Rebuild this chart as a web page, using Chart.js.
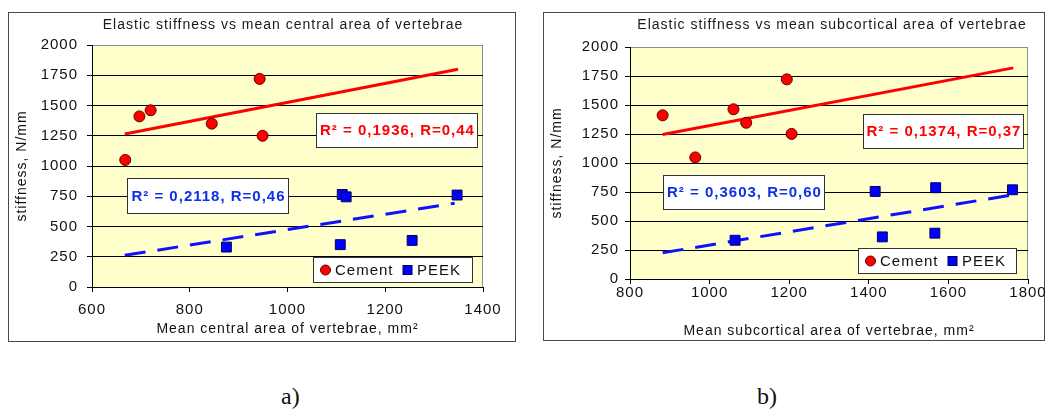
<!DOCTYPE html>
<html>
<head>
<meta charset="utf-8">
<script src="https://cdn.jsdelivr.net/npm/chart.js@4.4.1/dist/chart.umd.min.js"></script>
<style>
  body { margin: 0; background: #fff; width: 1048px; height: 411px; position: relative; overflow: hidden; }
  .frame { position: absolute; border: 1px solid #4a4a4a; background: #fff; }
  canvas { position: absolute; display: block; }
  .cap { position: absolute; font-family: "Liberation Serif", "DejaVu Serif", serif; font-size: 24px; line-height: 24px; color: #111; }
</style>
</head>
<body>
<div class="frame" style="left:8px;top:12px;width:506px;height:328px;"></div>
<div class="frame" style="left:543px;top:12px;width:500px;height:327px;"></div>
<canvas id="chartA" width="506" height="328" style="left:9px;top:13px;"></canvas>
<canvas id="chartB" width="504" height="327" style="left:544px;top:13px;"></canvas>
<div class="cap" style="left:281px;top:384px;">a)</div>
<div class="cap" style="left:757px;top:384px;">b)</div>
<script>
// ---- data ----
// a) mean central area
const cementCentralX = [668, 697, 720, 845, 943, 949];
const cementCentralY = [1050, 1410, 1460, 1350, 1720, 1250];
const peekCentralX = [875, 1108, 1112, 1120, 1255, 1347];
const peekCentralY = [330, 350, 765, 745, 385, 760];
const cementCentralTrendX = [667, 1349];
const cementCentralTrendY = [1265, 1799];
const peekCentralTrendX = [667, 1342];
const peekCentralTrendY = [262, 692];

// b) mean subcortical area
const cementSubX = [882, 964, 1060, 1092, 1194, 1206];
const cementSubY = [1411, 1048, 1463, 1347, 1721, 1251];
const peekSubX = [1064, 1416, 1434, 1566, 1568, 1761];
const peekSubY = [334, 755, 363, 395, 787, 769];
const cementSubTrendX = [882, 1763];
const cementSubTrendY = [1245, 1820];
const peekSubTrendX = [882, 1761];
const peekSubTrendY = [226, 725];

// labels
const seriesNames = ['Cement', 'PEEK'];
const yTitle = 'stiffness, N/mm';
const yTicks = { min: 0, max: 2000, step: 250 };
const centralXTicks = { min: 600, max: 1400, step: 200 };
const subXTicks = { min: 800, max: 1800, step: 200 };
const centralFit = ['R\u00B2 = 0,1936, R=0,44', 'R\u00B2 = 0,2118, R=0,46'];
const subFit = ['R\u00B2 = 0,1374, R=0,37', 'R\u00B2 = 0,3603, R=0,60'];

const FONT = '"Liberation Sans", Arial, sans-serif';
const RED = '#FF0000';
const BLUE = '#0000FF';
const BLUE_TEXT = '#1030E8';

const toPts = (xs, ys) => xs.map((x, i) => ({ x: x, y: ys[i] }));

// draws plot background, title, fit boxes and the legend box
const decorPlugin = {
  id: 'decor',
  beforeLayout(chart) { chart.ctx.letterSpacing = '1px'; },
  beforeDraw(chart, args, opts) {
    const ctx = chart.ctx, a = chart.chartArea;
    ctx.letterSpacing = '1px';
    ctx.save();
    ctx.fillStyle = '#FFFFCC';
    ctx.fillRect(a.left, a.top, a.right - a.left, a.bottom - a.top);
    ctx.strokeStyle = '#8c8c8c';
    ctx.lineWidth = 1;
    ctx.beginPath();
    ctx.moveTo(a.left, a.top + 0.5);
    ctx.lineTo(a.right - 0.5, a.top + 0.5);
    ctx.lineTo(a.right - 0.5, a.bottom);
    ctx.stroke();
    ctx.fillStyle = '#1a1a1a';
    ctx.font = '14px ' + FONT;
    ctx.textAlign = 'center';
    ctx.textBaseline = 'middle';
    ctx.fillText(opts.title, opts.titleX, opts.titleY);
    ctx.restore();
  },
  afterDatasetsDraw(chart, args, opts) {
    const ctx = chart.ctx;
    ctx.save();
    ctx.letterSpacing = '1px';
    // fit labels
    opts.boxes.forEach(b => {
      ctx.fillStyle = '#fff';
      ctx.fillRect(b.x, b.y, b.w, b.h);
      ctx.strokeStyle = '#333';
      ctx.lineWidth = 1;
      ctx.strokeRect(b.x + 0.5, b.y + 0.5, b.w, b.h);
      ctx.fillStyle = b.color;
      ctx.font = 'bold 15px ' + FONT;
      ctx.textAlign = 'center';
      ctx.textBaseline = 'middle';
      ctx.fillText(b.text, b.x + b.w / 2 + 1, b.y + b.h / 2 + 1);
    });
    // legend
    const L = opts.legend;
    ctx.fillStyle = '#fff';
    ctx.fillRect(L.x, L.y, L.w, L.h);
    ctx.strokeStyle = '#333';
    ctx.strokeRect(L.x + 0.5, L.y + 0.5, L.w, L.h);
    const cy = L.y + L.h / 2 + 0.5;
    ctx.beginPath();
    ctx.arc(L.x + 12.5, cy, 5, 0, Math.PI * 2);
    ctx.fillStyle = RED;
    ctx.fill();
    ctx.strokeStyle = '#600000';
    ctx.stroke();
    ctx.fillStyle = BLUE;
    ctx.fillRect(L.x + 90, cy - 4.5, 9, 9);
    ctx.strokeStyle = '#000060';
    ctx.strokeRect(L.x + 90, cy - 4.5, 9, 9);
    ctx.fillStyle = '#111';
    ctx.font = '15px ' + FONT;
    ctx.textAlign = 'left';
    ctx.textBaseline = 'middle';
    ctx.fillText(seriesNames[0], L.x + 22, cy + 1);
    ctx.fillText(seriesNames[1], L.x + 104, cy + 1);
    ctx.restore();
  }
};

function makeChart(id, c) {
  return new Chart(document.getElementById(id), {
    type: 'scatter',
    data: {
      datasets: [
        { label: seriesNames[0], data: toPts(c.cx, c.cy), backgroundColor: RED, borderColor: '#600000',
          borderWidth: 1, pointStyle: 'circle', pointRadius: 5.5 },
        { label: seriesNames[1], data: toPts(c.px, c.py), backgroundColor: BLUE, borderColor: '#000060',
          borderWidth: 1, pointStyle: 'rect', pointRadius: 7 },
        { data: toPts(c.ctx, c.cty), showLine: true, borderColor: RED, borderWidth: 3, pointRadius: 0 },
        { data: toPts(c.ptx, c.pty), showLine: true, borderColor: '#1010FF', borderWidth: 3,
          borderDash: [21, 12], pointRadius: 0 }
      ]
    },
    options: {
      responsive: false,
      animation: false,
      events: [],
      layout: { padding: { left: 0, top: c.top, right: c.right, bottom: 0 } },
      scales: {
        x: {
          type: 'linear', min: c.xt.min, max: c.xt.max,
          ticks: { stepSize: c.xt.step, padding: c.xPad, color: '#111', font: { family: FONT, size: 15 },
                   callback: v => String(v) },
          grid: { drawOnChartArea: false, drawTicks: true, tickLength: 5, tickColor: '#000' },
          border: { color: '#000', width: 1 },
          title: { display: true, text: c.xTitle, color: '#111', font: { family: FONT, size: 14 },
                   padding: { top: 0, bottom: c.xTitlePad } },
          afterFit(s) { s.height = c.xH; s.paddingLeft = 0; s.paddingRight = 0; }
        },
        y: {
          min: yTicks.min, max: yTicks.max,
          ticks: { stepSize: yTicks.step, padding: c.yPad, color: '#111', font: { family: FONT, size: 15 },
                   callback: v => String(v) },
          grid: { color: t => (t.tick && t.tick.value === yTicks.max ? '#8c8c8c' : '#000'),
                  tickLength: 5, tickColor: '#000' },
          border: { color: '#000', width: 1 },
          title: { display: true, text: yTitle, color: '#111', font: { family: FONT, size: 14 },
                   padding: { top: 5, bottom: 0 } },
          afterFit(s) { s.width = c.yW; s.paddingTop = 0; s.paddingBottom = 0; }
        }
      },
      plugins: {
        legend: { display: false },
        tooltip: { enabled: false },
        decor: {
          title: c.title, titleX: c.titleX, titleY: c.titleY,
          boxes: [
            Object.assign({ text: c.fit[0], color: RED }, c.redBox),
            Object.assign({ text: c.fit[1], color: BLUE_TEXT }, c.blueBox)
          ],
          legend: c.legend
        }
      }
    },
    plugins: [decorPlugin]
  });
}

makeChart('chartA', {
  cx: cementCentralX, cy: cementCentralY, px: peekCentralX, py: peekCentralY,
  ctx: cementCentralTrendX, cty: cementCentralTrendY, ptx: peekCentralTrendX, pty: peekCentralTrendY,
  xt: centralXTicks, fit: centralFit,
  title: 'Elastic stiffness vs mean central area of vertebrae',
  xTitle: 'Mean central area of vertebrae, mm\u00B2',
  top: 32, right: 32, yW: 83, xH: 54, xPad: 9, yPad: 9, xTitlePad: 3,
  titleX: 274, titleY: 12,
  redBox: { x: 307, y: 100, w: 161, h: 34 },
  blueBox: { x: 118, y: 165, w: 161, h: 35 },
  legend: { x: 304, y: 244, w: 159, h: 25 }
});

makeChart('chartB', {
  cx: cementSubX, cy: cementSubY, px: peekSubX, py: peekSubY,
  ctx: cementSubTrendX, cty: cementSubTrendY, ptx: peekSubTrendX, pty: peekSubTrendY,
  xt: subXTicks, fit: subFit,
  title: 'Elastic stiffness vs mean subcortical area of vertebrae',
  xTitle: 'Mean subcortical area of vertebrae, mm\u00B2',
  top: 34, right: 20, yW: 86, xH: 61, xPad: 0, yPad: 6, xTitlePad: 0,
  titleX: 288, titleY: 12,
  redBox: { x: 319, y: 101, w: 160, h: 34 },
  blueBox: { x: 119, y: 162, w: 161, h: 34 },
  legend: { x: 314, y: 235, w: 158, h: 25 }
});
</script>
</body>
</html>
